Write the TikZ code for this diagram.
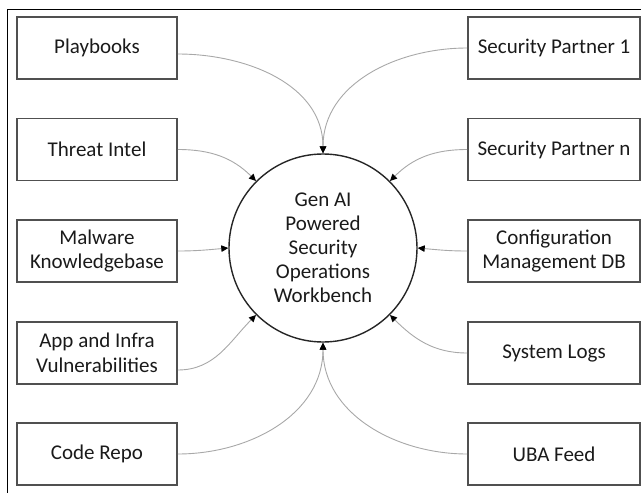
\documentclass[tikz,border=0pt]{standalone}
\usepackage{fontspec}
\setmainfont{Carlito}
\usetikzlibrary{arrows.meta}
\definecolor{boxline}{HTML}{505050}
\definecolor{txt}{HTML}{1A1A1A}
\definecolor{conn}{HTML}{A8A8A8}
\tikzset{
  srcbox/.style={draw=boxline, line width=1.6pt, minimum height=62pt, align=center,
    text=txt, font=\fontsize{21}{24.5}\selectfont, inner sep=0pt},
  leftbox/.style={srcbox, minimum width=160pt},
  rightbox/.style={srcbox, minimum width=172pt},
  hub/.style={circle, draw=black!85, line width=1.4pt, minimum size=188pt, align=center,
    text=txt, font=\fontsize{21}{24}\selectfont, inner sep=0pt},
  feed/.style={draw=conn, line width=0.9pt, -{Triangle[length=7pt,width=6.5pt,color=black]}}
}
\begin{document}
\begin{tikzpicture}[x=1pt,y=-1pt]
\useasboundingbox (0,0) rectangle (641,493);
\draw[black, line width=1pt] (7.5,493) -- (7.5,9) -- (641,9);
\node[hub] (c) at (323,248) {Gen AI\\Powered\\Security\\Operations\\Workbench};
\node[leftbox] (pb) at (97,48) {Playbooks};
\node[leftbox] (ti) at (97,149.5) {Threat Intel};
\node[leftbox] (mk) at (97,251) {Malware\\Knowledgebase};
\node[leftbox] (ai) at (97,353) {App and Infra\\Vulnerabilities};
\node[leftbox] (cr) at (97,454) {Code Repo};
\node[rightbox] (sp1) at (554,48) {Security Partner 1};
\node[rightbox] (spn) at (554,149.5) {Security Partner n};
\node[rightbox] (cm) at (554,251) {Configuration\\Management DB};
\node[rightbox] (sl) at (554,353) {System Logs};
\node[rightbox] (uba) at (554,454) {UBA Feed};
\draw[feed] ([yshift=-6pt]pb.east) to[out=0,in=90] (c.north);
\draw[feed] (ti.east) to[out=0,in=135] (c.135);
\draw[feed] (mk.east) to[out=0,in=185] (c.west);
\draw[feed] ([yshift=-17pt]ai.east) to[out=0,in=225] (c.225);
\draw[feed] (cr.east) to[out=0,in=270] (c.south);
\draw[feed] (sp1.west) to[out=180,in=90] (c.north);
\draw[feed] (spn.west) to[out=180,in=45] (c.45);
\draw[feed] (cm.west) to[out=180,in=-5] (c.east);
\draw[feed] (sl.west) to[out=180,in=-45] (c.-45);
\draw[feed] (uba.west) to[out=180,in=270] (c.south);
\end{tikzpicture}
\end{document}
